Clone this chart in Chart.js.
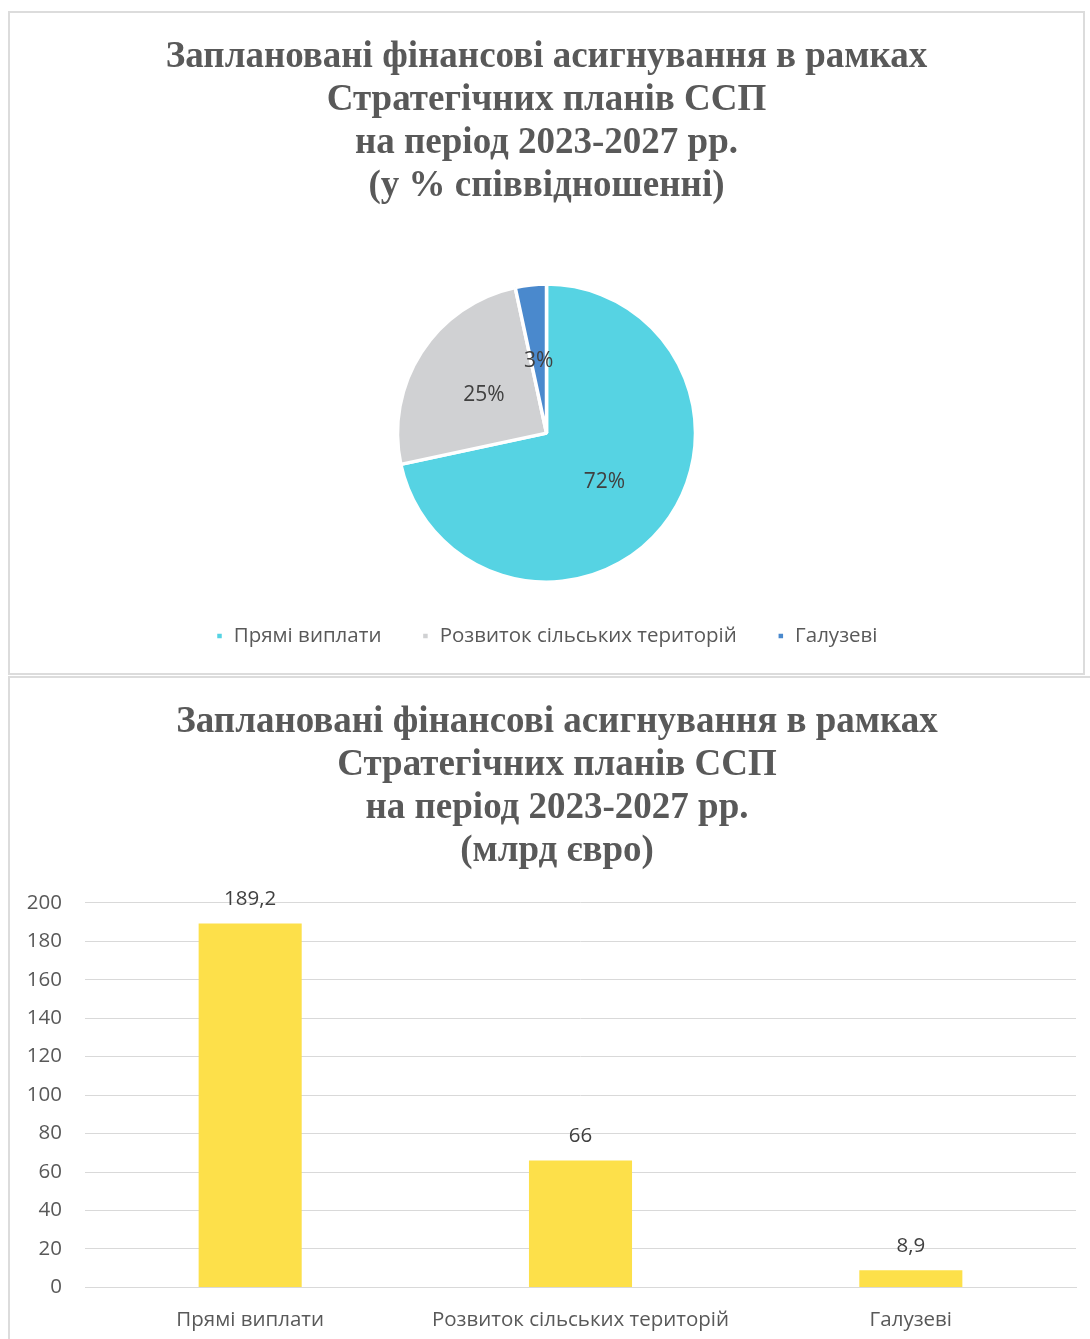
<!DOCTYPE html>
<html><head><meta charset="utf-8">
<script src="https://cdn.jsdelivr.net/npm/chart.js@4/dist/chart.umd.min.js"></script>
<style>
body{margin:0;background:#fff;overflow:hidden;}
.box{position:absolute;border:2px solid #dcdcdc;box-sizing:border-box;background:#fff;overflow:hidden;}
canvas{position:absolute;left:0;top:0;}
</style></head><body>
<div class="box" id="b1" style="left:8px;top:11px;width:1077px;height:664px;"><canvas id="pie" width="1073" height="660"></canvas></div>
<div class="box" id="b2" style="left:8px;top:676px;width:1084px;height:665px;"><canvas id="bar" width="1080" height="661"></canvas></div>
<script>
const categories = ["Прямі виплати", "Розвиток сільських територій", "Галузеві"];
const values = [189.2, 66, 8.9];
const pieColors = ["#56D3E3", "#D0D1D3", "#4A89CD"];
const barColor = "#FDE04A";
const yTicks = [0, 20, 40, 60, 80, 100, 120, 140, 160, 180, 200];
const pieTitle = ["Заплановані фінансові асигнування в рамках", "Стратегічних планів ССП", "на період 2023-2027 рр.", "(у % співвідношенні)"];
const barTitle = ["Заплановані фінансові асигнування в рамках", "Стратегічних планів ССП", "на період 2023-2027 рр.", "(млрд євро)"];

const SANS = "'Open Sans', sans-serif";
const SERIF = "'Liberation Serif', 'Times New Roman', serif";
const FS = 20.5;

const pieLabels = {
  id: 'pieLabels',
  afterDatasetsDraw(chart) {
    const ctx = chart.ctx;
    const meta = chart.getDatasetMeta(0);
    const data = chart.data.datasets[0].data;
    const total = data.reduce((a, b) => a + b, 0);
    ctx.save();
    ctx.font = "21px " + SANS;
    ctx.fillStyle = "#404040";
    ctx.textAlign = "center";
    ctx.textBaseline = "middle";
    meta.data.forEach((arc, i) => {
      const p = arc.getCenterPoint();
      ctx.fillText(Math.round(data[i] / total * 100) + "%", p.x, p.y + 2);
    });
    ctx.restore();
  }
};

const barLabels = {
  id: 'barLabels',
  afterDatasetsDraw(chart) {
    const ctx = chart.ctx;
    const meta = chart.getDatasetMeta(0);
    const data = chart.data.datasets[0].data;
    ctx.save();
    ctx.font = FS + "px " + SANS;
    ctx.fillStyle = "#404040";
    ctx.textAlign = "center";
    ctx.textBaseline = "middle";
    meta.data.forEach((bar, i) => {
      ctx.fillText(String(data[i]).replace('.', ','), bar.x, bar.y - 24);
    });
    ctx.restore();
  }
};

// widen the y-axis label clip area to the canvas edge
const yClipFix = {
  id: 'yClipFix',
  afterLayout(chart) { chart.scales.y.left = 0; }
};

const titleFont = { family: SERIF, size: 37, weight: 'bold', lineHeight: 1.162 };

new Chart(document.getElementById('pie'), {
  type: 'pie',
  data: { labels: categories, datasets: [{ data: values, backgroundColor: pieColors, borderColor: '#fff', borderWidth: 3.5, radius: 149 }] },
  options: {
    responsive: false, animation: false,
    layout: { padding: { bottom: 16.75 } },
    plugins: {
      title: { display: true, text: pieTitle, color: '#595959', font: titleFont, padding: { top: 23, bottom: 72.5 } },
      legend: { position: 'bottom', labels: { color: '#595959', font: { family: SANS, size: FS }, boxWidth: 8, boxHeight: 8, padding: 40 } },
      tooltip: { enabled: false }
    }
  },
  plugins: [pieLabels]
});

new Chart(document.getElementById('bar'), {
  type: 'bar',
  data: { labels: categories, datasets: [{ data: values, backgroundColor: barColor, categoryPercentage: 1, barPercentage: 0.312 }] },
  options: {
    responsive: false, animation: false,
    layout: { padding: { left: 28, right: 14, bottom: -13, top: 0 } },
    plugins: {
      title: { display: true, text: barTitle, color: '#595959', font: titleFont, padding: { top: 23, bottom: 29.8 } },
      legend: { display: false },
      tooltip: { enabled: false }
    },
    scales: {
      x: {
        grid: { display: false, drawTicks: false },
        border: { color: '#D9D9D9', width: 1 },
        ticks: { color: '#595959', font: { family: SANS, size: FS }, padding: 20 }
      },
      y: {
        min: 0, max: 200,
        afterBuildTicks(s) { s.ticks = yTicks.map(v => ({ value: v })); },
        afterFit(s) { s.width = 47; },
        grid: { color: '#D9D9D9', lineWidth: 1, drawTicks: false },
        border: { display: false },
        ticks: { color: '#595959', font: { family: SANS, size: FS }, padding: 23 }
      }
    }
  },
  plugins: [barLabels, yClipFix]
});
</script>
</body></html>
